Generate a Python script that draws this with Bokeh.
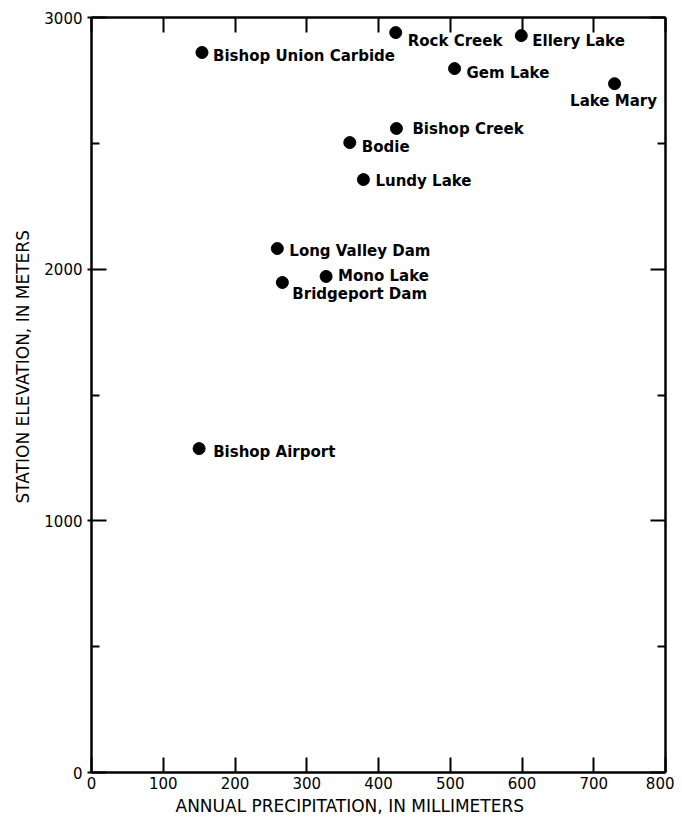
from bokeh.plotting import figure
from bokeh.models import (LinearAxis, FixedTicker, CustomJSTickFormatter,
                          ColumnDataSource, Range1d, Title)
from bokeh.embed import file_html
from bokeh.resources import INLINE
from bokeh.core.properties import value

# ---- data ----
stations = ["Bishop Union Carbide", "Rock Creek", "Ellery Lake", "Gem Lake",
            "Lake Mary", "Bishop Creek", "Bodie", "Lundy Lake",
            "Long Valley Dam", "Mono Lake", "Bridgeport Dam", "Bishop Airport"]
precip_mm = [154, 424, 599, 506, 729, 425, 360, 379, 259, 327, 266, 150]
elev_m = [2861, 2940, 2928, 2797, 2737, 2559, 2503, 2356, 2082, 1971, 1947, 1287]

x_ticks = [0, 100, 200, 300, 400, 500, 600, 700, 800]
y_ticks = [0, 1000, 2000, 3000]
y_minor_ticks = [500, 1500, 2500]

x_title = "ANNUAL PRECIPITATION, IN MILLIMETERS"
y_title = "STATION ELEVATION, IN METERS"

# ---- label layout (pixels) ----
label_dx = [11, 12, 11, 12, -1, 16, 12, 12, 12, 12, 10, 14]
label_dy = [4, 8, 5, 4, 17, 1, 4, 1, 2, 0, 11, 3]
label_align = ["left"] * 4 + ["center"] + ["left"] * 7

FONT = "DejaVu Sans"

src = ColumnDataSource(dict(x=precip_mm, y=elev_m, name=stations,
                            dx=label_dx, dy=label_dy, align=label_align))

p = figure(width=674, height=817, output_backend="svg", toolbar_location=None,
           x_range=Range1d(0, 800), y_range=Range1d(0, 3000),
           x_axis_location=None, y_axis_location=None,
           min_border_left=91, min_border_right=9, min_border_top=17,
           min_border_bottom=45)
p.grid.visible = False
p.outline_line_color = None
p.background_fill_color = "white"
p.border_fill_color = "white"

def style(ax, labels=True, tick_out=0):
    ax.axis_line_width = 2.5
    ax.axis_line_color = "black"
    ax.major_tick_line_width = 2
    ax.major_tick_line_color = "black"
    ax.major_tick_in = 15
    ax.major_tick_out = tick_out
    ax.minor_tick_line_width = 2
    ax.minor_tick_line_color = "black"
    ax.minor_tick_in = 8
    ax.minor_tick_out = 0
    if labels:
        ax.major_label_text_font = FONT
        ax.major_label_text_font_size = "15px"
        ax.major_label_text_color = "black"
    else:
        ax.formatter = CustomJSTickFormatter(code="return ''")
        ax.major_label_text_font_size = "0px"
        ax.major_label_standoff = 0

xt = FixedTicker(ticks=x_ticks, minor_ticks=[])
yt = FixedTicker(ticks=y_ticks, minor_ticks=y_minor_ticks)

bottom = LinearAxis(ticker=xt)
style(bottom)
bottom.major_label_standoff = 4
p.add_layout(bottom, "below")

left = LinearAxis(ticker=yt)
style(left, tick_out=4)
left.major_label_standoff = 5
p.add_layout(left, "left")

top = LinearAxis(ticker=xt)
style(top, labels=False)
p.add_layout(top, "above")

right = LinearAxis(ticker=yt)
style(right, labels=False)
p.add_layout(right, "right")

# axis titles, offset along the frame as in the reference
p.add_layout(Title(text=x_title, align="left", offset=84, standoff=4,
                   text_font=FONT, text_font_size="17px",
                   text_font_style="normal", text_color="black"), "below")
p.add_layout(Title(text=y_title, align="left", offset=269, standoff=18,
                   text_font=FONT, text_font_size="17px",
                   text_font_style="normal", text_color="black"), "left")

p.scatter("x", "y", source=src, size=12, color="black")
p.text("x", "y", text="name", source=src, x_offset="dx", y_offset="dy",
       text_align="align", text_baseline="middle",
       text_font=value(FONT), text_font_size="15px", text_font_style="bold",
       text_color="black")

open("out.html", "w").write(file_html(p, INLINE))
